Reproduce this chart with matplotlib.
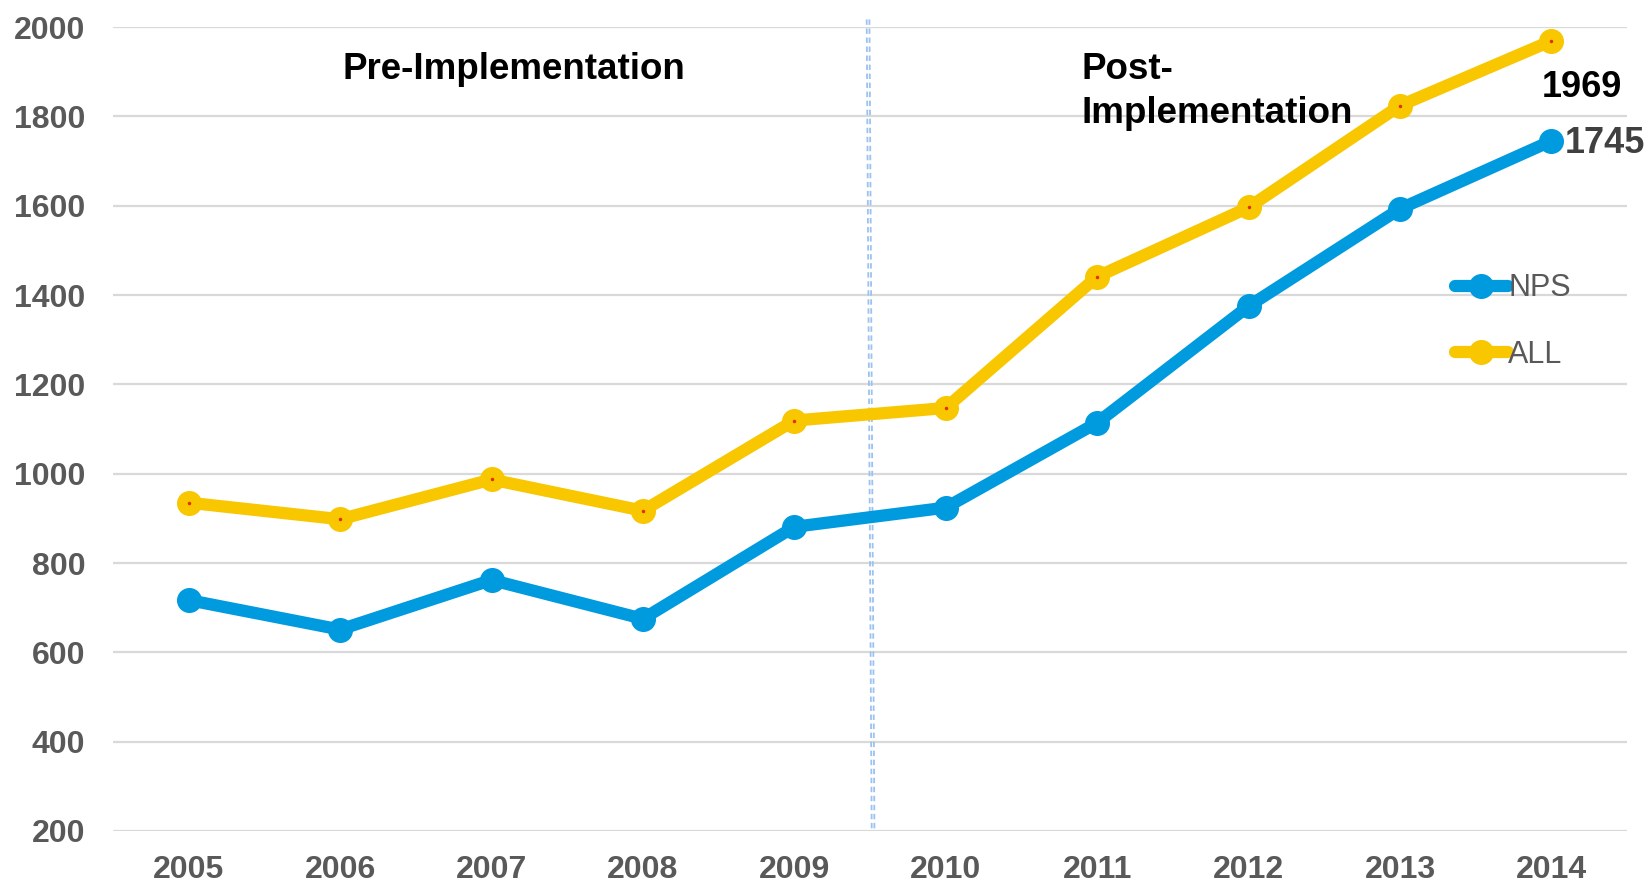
import matplotlib
matplotlib.use("Agg")
import matplotlib.pyplot as plt

years = [2005, 2006, 2007, 2008, 2009, 2010, 2011, 2012, 2013, 2014]
nps = [717, 651, 762, 675, 881, 924, 1114, 1375, 1593, 1745]
all_vals = [935, 898, 987, 917, 1119, 1147, 1441, 1596, 1824, 1969]
yticks = [200, 400, 600, 800, 1000, 1200, 1400, 1600, 1800, 2000]

blue = "#009ADF"
yellow = "#F8C700"
gray = "#595959"

plt.rcParams['font.family'] = ['Liberation Sans', 'DejaVu Sans']

fig = plt.figure(figsize=(16.47, 8.83), dpi=100)
ax = fig.add_axes([0.0686, 0.0589, 0.9193, 0.9105])

ax.plot(years, all_vals, color=yellow, lw=8.8, marker='o', ms=17,
        solid_capstyle='round', label='ALL', zorder=3)
ax.plot(years, all_vals, ls='none', marker='o', ms=1.5, color='#e03010', zorder=4)
ax.plot(years, nps, color=blue, lw=8.8, marker='o', ms=17,
        solid_capstyle='round', label='NPS', zorder=3)

# divider between pre and post
ax.plot([2009.478, 2009.511], [2017, 205], color='#9cc2ef', lw=1.3,
        ls=(0, (3, 2)), clip_on=False, zorder=2)
ax.plot([2009.496, 2009.529], [2017, 205], color='#9cc2ef', lw=1.3,
        ls=(0, (3, 2)), clip_on=False, zorder=2)

ax.set_xlim(2004.5, 2014.5)
ax.set_ylim(200, 2000)
ax.set_xticks(years)
ax.set_yticks(yticks)
ax.tick_params(length=0, labelsize=23, labelcolor=gray)
ax.tick_params(axis='x', pad=17)
ax.tick_params(axis='y', pad=20)
for lab in ax.get_xticklabels() + ax.get_yticklabels():
    lab.set_fontweight('bold')
ax.grid(axis='y', color='#d9d9d9', lw=1.6)
ax.set_axisbelow(True)
for s in ax.spines.values():
    s.set_visible(False)

ax.text(2007.15, 1905, "Pre-Implementation", fontsize=26.5, fontweight='bold',
        ha='center', va='center')
ax.text(2010.90, 1855, "Post-\nImplementation", fontsize=26.5, fontweight='bold',
        ha='left', va='center', linespacing=1.32)

ax.annotate(str(all_vals[-1]), (years[-1], all_vals[-1]), xytext=(31, -47),
            textcoords='offset pixels', fontsize=26, fontweight='bold',
            ha='center', va='center', color='black', annotation_clip=False)
ax.annotate(str(nps[-1]), (years[-1], nps[-1]), xytext=(13, -3),
            textcoords='offset pixels', fontsize=26, fontweight='bold',
            ha='left', va='center', color='#404040', annotation_clip=False)

handles, labels = ax.get_legend_handles_labels()
leg = ax.legend(handles[::-1], labels[::-1], loc='upper left',
                bbox_to_anchor=(0.878, 0.709), frameon=False, fontsize=22,
                handlelength=1.75, handletextpad=0.0, labelspacing=1.2,
                borderaxespad=0)
for t in leg.get_texts():
    t.set_color(gray)

fig.savefig("out.png", dpi=100)
